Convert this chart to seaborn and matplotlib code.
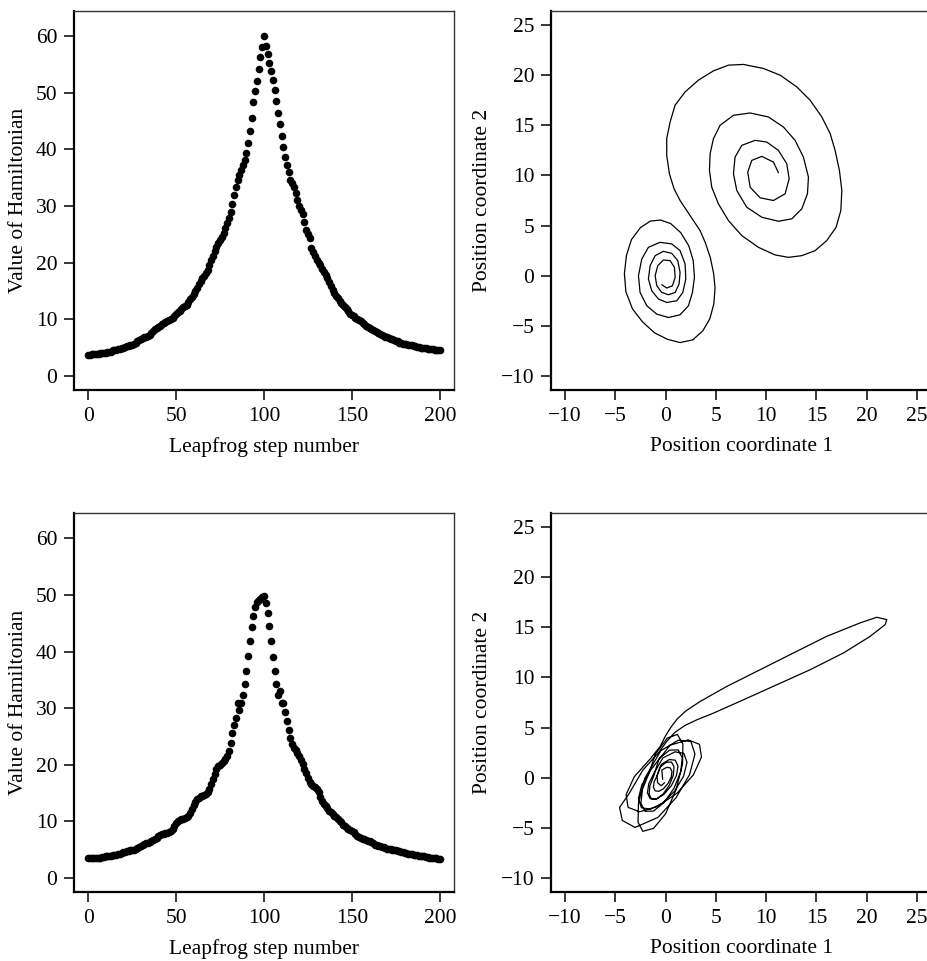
import numpy as np
import matplotlib
matplotlib.use("Agg")
import matplotlib.pyplot as plt
import seaborn as sns

# Hamiltonian along the leapfrog trajectory, first run
hamiltonian_a = [
    3.7, 3.7, 3.8, 3.8, 3.8, 3.9, 3.9, 4.0, 4.0, 4.1, 4.1, 4.2, 4.2, 4.3, 4.5, 4.6, 4.6, 4.7, 4.8, 4.9, 5.0,
    5.1, 5.2, 5.3, 5.4, 5.5, 5.6, 5.8, 6.1, 6.4, 6.6, 6.7, 6.8, 6.9, 7.1, 7.3, 7.6, 7.9, 8.2, 8.5, 8.7,
    8.9, 9.1, 9.3, 9.5, 9.7, 9.9, 10.1, 10.3, 10.6, 10.9, 11.2, 11.5, 11.8, 12.1, 12.3, 12.6, 13.0, 13.5, 14.0, 14.5,
    14.9, 15.5, 16.2, 16.8, 17.3, 17.7, 18.1, 18.7, 19.5, 20.4, 21.2, 22.0, 22.8, 23.5, 24.0, 24.6, 25.3, 26.1, 26.9, 27.9,
    29.0, 30.3, 31.9, 33.4, 34.6, 35.5, 36.3, 37.2, 38.1, 39.3, 41.1, 43.3, 45.6, 48.4, 50.2, 52.1, 54.2, 56.2, 58.0, 60.0,
    58.3, 56.8, 55.2, 53.8, 52.2, 50.4, 48.5, 46.4, 44.4, 42.4, 40.4, 38.6, 37.2, 35.9, 34.6, 34.0, 33.4, 32.2, 31.1, 29.9,
    29.2, 28.6, 27.2, 25.8, 25.0, 24.3, 22.5, 21.8, 21.1, 20.5, 20.0, 19.5, 18.9, 18.3, 17.8, 17.3, 16.6, 15.9, 15.2, 14.6,
    14.1, 13.7, 13.3, 12.9, 12.5, 12.2, 11.8, 11.4, 11.0, 10.7, 10.5, 10.3, 10.1, 9.9, 9.7, 9.4, 9.1, 8.8, 8.6, 8.4,
    8.3, 8.1, 7.9, 7.8, 7.6, 7.4, 7.2, 7.0, 6.9, 6.8, 6.7, 6.6, 6.5, 6.4, 6.2, 6.1, 5.9, 5.8, 5.7, 5.6,
    5.6, 5.5, 5.5, 5.4, 5.3, 5.2, 5.1, 5.1, 5.0, 5.0, 4.9, 4.9, 4.8, 4.8, 4.7, 4.7, 4.6, 4.6, 4.5, 4.5,
]

# second run
hamiltonian_b = [
    3.5, 3.5, 3.5, 3.5, 3.5, 3.6, 3.6, 3.6, 3.7, 3.7, 3.8, 3.8, 3.9, 3.9, 4.0, 4.0, 4.1, 4.2, 4.3, 4.4, 4.5,
    4.6, 4.7, 4.8, 4.9, 5.0, 5.0, 5.1, 5.3, 5.5, 5.7, 5.9, 6.0, 6.1, 6.2, 6.3, 6.5, 6.7, 6.9, 7.1, 7.4,
    7.6, 7.7, 7.8, 7.9, 8.0, 8.1, 8.3, 8.7, 9.2, 9.7, 10.1, 10.3, 10.4, 10.5, 10.6, 10.7, 11.0, 11.5, 12.2, 12.9,
    13.4, 13.9, 14.2, 14.4, 14.5, 14.6, 14.8, 15.2, 15.8, 16.6, 17.4, 18.4, 19.2, 19.7, 20.0, 20.3, 20.6, 21.0, 21.6, 22.5,
    23.9, 25.6, 27.1, 28.3, 30.9, 29.7, 31.0, 32.3, 34.3, 36.6, 39.2, 41.9, 44.3, 46.3, 47.9, 48.8, 49.1, 49.3, 49.6, 49.9,
    48.6, 46.8, 44.5, 41.9, 39.1, 36.5, 34.2, 32.4, 33.0, 31.0, 30.9, 29.4, 27.7, 26.1, 24.7, 23.7, 23.0, 22.6, 22.1, 21.5,
    20.9, 20.1, 19.3, 18.5, 17.6, 17.0, 16.6, 16.3, 16.1, 15.7, 15.1, 14.3, 13.6, 13.1, 12.7, 12.3, 11.9, 11.6, 11.3, 11.0,
    10.8, 10.5, 10.1, 9.8, 9.4, 9.1, 8.8, 8.6, 8.5, 8.3, 8.1, 7.8, 7.5, 7.2, 7.0, 6.9, 6.8, 6.7, 6.6, 6.5,
    6.3, 6.1, 5.9, 5.8, 5.7, 5.6, 5.5, 5.4, 5.3, 5.2, 5.1, 5.1, 5.0, 5.0, 4.9, 4.8, 4.7, 4.6, 4.5, 4.4,
    4.4, 4.3, 4.2, 4.2, 4.1, 4.0, 4.0, 3.9, 3.9, 3.8, 3.8, 3.7, 3.7, 3.6, 3.6, 3.5, 3.5, 3.5, 3.4, 3.4,
]

steps = list(range(len(hamiltonian_a)))

# position trajectory, first run
pos1_a = [
    -0.38, 0.12, 0.68, 0.95, 0.88, 0.45, -0.22, -0.78, -1.04, -0.88, -0.38, 0.28, 0.95, 1.34, 1.44, 1.21,
    0.61, -0.22, -1.04, -1.54, -1.71, -1.38, -0.71, 0.12, 1.11, 1.71, 2.01, 1.94, 1.44, 0.61, -0.55, -1.71,
    -2.37, -2.70, -2.54, -1.87, -0.88, 0.28, 1.44, 2.27, 2.67, 2.87, 2.75, 2.30, 1.50, 0.50, -0.50, -1.50,
    -2.50, -3.40, -3.90, -4.10, -3.95, -3.30, -2.30, -1.10, 0.20, 1.44, 2.70, 3.70, 4.40, 4.80, 4.92, 4.78,
    4.45, 3.95, 3.43, 2.77, 2.10, 1.44, 0.84, 0.38, 0.11, 0.11, 0.45, 0.94, 1.94, 3.26, 4.76, 6.25,
    7.74, 9.73, 11.39, 13.05, 14.38, 15.54, 16.37, 16.86, 17.29, 17.53, 17.43, 16.96, 16.03, 14.87, 13.55, 12.22,
    10.89, 9.23, 7.58, 6.25, 5.25, 4.59, 4.36, 4.43, 4.76, 5.42, 6.75, 8.41, 10.23, 11.72, 12.88, 13.71,
    14.21, 14.11, 13.55, 12.55, 11.22, 9.57, 8.07, 7.08, 6.75, 6.91, 7.58, 8.90, 10.06, 11.22, 12.05, 12.29,
    11.89, 10.73, 9.40, 8.41, 8.17, 8.57, 9.57, 10.73, 11.22,
]
pos2_a = [
    -0.90, -1.23, -1.00, -0.17, 0.83, 1.50, 1.57, 1.00, 0.00, -1.00, -1.67, -1.90, -1.67, -0.83, 0.33, 1.50,
    2.23, 2.43, 2.00, 1.00, -0.33, -1.50, -2.33, -2.67, -2.50, -1.67, -0.33, 1.17, 2.50, 3.17, 3.33, 2.83,
    1.67, 0.00, -1.67, -3.00, -3.83, -4.17, -3.90, -3.00, -1.67, -0.17, 1.50, 3.00, 4.30, 5.20, 5.55, 5.45,
    4.80, 3.60, 2.00, 0.20, -1.60, -3.30, -4.60, -5.70, -6.35, -6.67, -6.40, -5.50, -4.30, -2.80, -1.20, 0.20,
    1.80, 3.30, 4.50, 5.50, 6.50, 7.50, 8.67, 10.17, 12.00, 13.67, 15.33, 17.00, 18.33, 19.50, 20.43, 21.00,
    21.07, 20.67, 20.00, 18.83, 17.50, 15.83, 14.17, 12.50, 10.50, 8.50, 6.50, 4.83, 3.50, 2.50, 2.00, 1.83,
    2.07, 2.83, 4.00, 5.50, 7.17, 8.83, 10.50, 12.17, 13.67, 15.00, 16.00, 16.23, 15.83, 14.83, 13.50, 11.83,
    9.83, 8.17, 6.67, 5.67, 5.43, 5.83, 6.83, 8.50, 10.17, 11.83, 13.00, 13.50, 13.33, 12.50, 11.17, 9.67,
    8.17, 7.50, 7.77, 8.83, 10.33, 11.50, 11.90, 11.33, 10.27,
]

# position trajectory, second run
pos1_b = [
    -0.29, -0.38, 0.10, 0.46, 0.63, 0.56, 0.25, -0.20, -0.68, -1.04, -1.21, -1.14, -0.83,
    -0.41, 0.37, 0.96, 1.23, 1.09, 0.57, -0.18, -0.95, -1.54, -1.81, -1.67, -1.15,
    -0.26, 0.94, 1.82, 2.13, 1.79, 0.90, -0.32, -1.52, -2.40, -2.71, -2.37, -1.48,
    0.44, 2.23, 3.37, 3.57, 2.76, 1.16, -0.80, -2.59, -3.73, -3.93, -3.12, -1.52,
    -0.55, -0.05, 0.50, 1.15, 2.00, 3.43, 6.08, 9.40, 12.72, 16.03, 19.35, 21.00, 22.00,
    21.84, 20.35, 17.69, 14.38, 11.06, 7.74, 4.76, 3.10, 1.90, 0.90, 0.10, -0.70,
    -2.27, -3.62, -4.58, -4.31, -3.04, -0.76, 1.03, 2.38, 2.92, 2.52, 1.27, -0.48,
    -2.06, -2.70, -2.74, -2.27, -1.19, 0.00, 1.04, 1.68, 1.72, 1.17, 0.17, -1.02,
    -1.64, -2.30, -2.46, -2.05, -1.20, -0.15, 0.84, 1.50, 1.66, 1.25, 0.40, -0.65,
    -1.17, -1.56, -1.64, -1.39, -0.87, -0.23, 0.37, 0.76, 0.84, 0.59, 0.07, -0.57,
    -0.85, -0.80, -0.45, -0.10,
]
pos2_b = [
    -0.17, 0.76, 1.03, 0.98, 0.63, 0.07, -0.56, -1.09, -1.36, -1.31, -0.96, -0.40, 0.23,
    1.34, 1.81, 1.75, 1.18, 0.24, -0.80, -1.68, -2.14, -2.09, -1.51, -0.58, 0.47,
    1.98, 2.58, 2.42, 1.53, 0.16, -1.34, -2.54, -3.15, -2.99, -2.10, -0.73, 0.77,
    3.24, 3.77, 3.33, 2.06, 0.28, -1.52, -2.87, -3.40, -2.96, -1.69, 0.09, 1.89,
    3.10, 4.10, 5.00, 5.85, 6.65, 7.60, 9.10, 10.77, 12.44, 14.10, 15.44, 16.00, 15.77,
    15.27, 14.10, 12.44, 10.77, 9.27, 7.77, 6.44, 5.77, 5.20, 4.50, 3.60, 2.50,
    0.75, -1.57, -2.97, -4.26, -4.96, -3.96, -2.01, 0.30, 2.36, 3.61, 3.74, 2.69,
    -0.04, -2.55, -4.45, -5.35, -5.05, -3.60, -1.20, 1.32, 3.36, 4.32, 3.95, 2.36,
    0.48, -1.15, -2.56, -3.35, -3.33, -2.47, -1.04, 0.58, 1.99, 2.77, 2.75, 1.90,
    0.19, -0.80, -1.64, -2.12, -2.11, -1.61, -0.75, 0.23, 1.08, 1.56, 1.54, 1.04,
    0.20, -0.50, -0.80, -0.50,
]

sns.set_theme(style="white")
plt.rcParams["font.family"] = ["Liberation Serif", "DejaVu Serif"]
plt.rcParams["axes.unicode_minus"] = True
plt.rcParams["text.color"] = "black"
plt.rcParams["axes.labelcolor"] = "black"
plt.rcParams["xtick.color"] = "black"
plt.rcParams["ytick.color"] = "black"

FS = 15.5
W, H = 928, 961
fig = plt.figure(figsize=(W / 100, H / 100), dpi=100)


def make_axes(left, top, right, bottom):
    return fig.add_axes([left / W, 1 - bottom / H, (right - left) / W, (bottom - top) / H])


def style_axes(ax, xlabel, ylabel, ylab_x):
    for side in ["top", "right"]:
        ax.spines[side].set_linewidth(1.0)
        ax.spines[side].set_color("#333333")
    for side in ["left", "bottom"]:
        ax.spines[side].set_linewidth(1.6)
        ax.spines[side].set_color("black")
    ax.tick_params(axis="both", direction="out", length=7, width=1.1, color="black",
                   labelcolor="black", labelsize=FS, pad=5, bottom=True, left=True)
    ax.set_xlabel(xlabel, fontsize=FS, color="black")
    ax.set_ylabel(ylabel, fontsize=FS, color="black")
    ax.xaxis.label.set_va("center")
    ax.yaxis.label.set_va("center")
    ax.xaxis.set_label_coords(0.5, -0.15)
    ax.yaxis.set_label_coords(ylab_x, 0.5)
    ax.grid(False)


panels_h = [(hamiltonian_a, (74, 10.5, 454, 390)), (hamiltonian_b, (74, 513, 454, 892))]
for values, box in panels_h:
    ax = make_axes(*box)
    sns.scatterplot(x=steps, y=values, ax=ax, color="black", s=30, linewidth=0)
    ax.set_xlim(-8, 208)
    ax.set_ylim(-2.48, 64.48)
    ax.set_xticks([0, 50, 100, 150, 200])
    ax.set_yticks([0, 10, 20, 30, 40, 50, 60])
    style_axes(ax, "Leapfrog step number", "Value of Hamiltonian", -0.147)

panels_p = [(pos1_a, pos2_a, (551, 11, 931, 390)), (pos1_b, pos2_b, (551, 513, 931, 892))]
for xs, ys, box in panels_p:
    ax = make_axes(*box)
    sns.lineplot(x=xs, y=ys, ax=ax, sort=False, estimator=None, color="black",
                 linewidth=0.9, solid_joinstyle="round")
    ax.set_xlim(-11.4, 26.4)
    ax.set_ylim(-11.4, 26.4)
    ax.set_xticks([-10, -5, 0, 5, 10, 15, 20, 25])
    ax.set_yticks([-10, -5, 0, 5, 10, 15, 20, 25])
    style_axes(ax, "Position coordinate 1", "Position coordinate 2", -0.179)

fig.savefig("out.png", dpi=100)
